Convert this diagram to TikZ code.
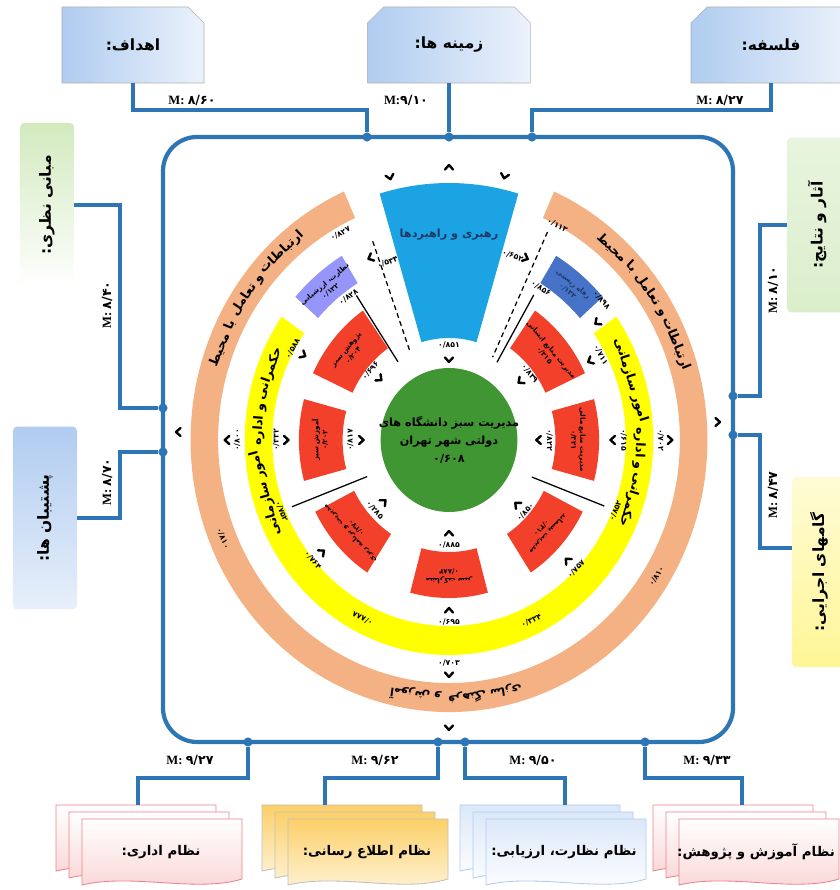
\documentclass[tikz,border=0pt]{standalone}
\usepackage{fontspec}
\setmainfont{Liberation Serif}
\newfontfamily\farsifont[Script=Arabic]{DejaVu Sans}
\TeXXeTstate=1
\usetikzlibrary{shapes.misc,positioning,calc}

\definecolor{frameblue}{RGB}{46,117,182}
\definecolor{ringsalmon}{RGB}{244,177,131}
\definecolor{ringyellow}{RGB}{255,255,0}
\definecolor{segred}{RGB}{243,64,42}
\definecolor{leadblue}{RGB}{28,163,228}
\definecolor{leadtext}{RGB}{31,56,100}
\definecolor{boxpurple}{RGB}{150,150,250}
\definecolor{boxblue}{RGB}{70,115,200}
\definecolor{coregreen}{RGB}{64,150,50}
\definecolor{paleblue}{RGB}{176,204,240}
\definecolor{palegreen}{RGB}{210,234,190}
\definecolor{paleyellow}{RGB}{255,246,150}
\definecolor{palepink}{RGB}{250,212,212}
\definecolor{gold}{RGB}{252,208,105}
\definecolor{pinkline}{RGB}{236,130,140}

\newcommand\fatx[1]{{\farsifont\bfseries\beginR #1\endR}}
\newcommand\fnum[1]{{\farsifont\bfseries #1}}
\newcommand\mval[1]{{\bfseries M:}~\fnum{#1}}
% annular piece: colour, start, end, inner, outer
\newcommand\ringpart[5]{\fill[#1] (#2:#4) -- (#2:#5) arc[start angle=#2, end angle=#3, radius=#5] -- (#3:#4) arc[start angle=#3, end angle=#2, radius=#4] -- cycle;}
% stack of three sheets: left x, fill, border
\newcommand\docstack[3]{%
  \foreach \k in {0,1,2} {
    \path[#2, draw=#3, line width=0.6pt] ({#1+13*\k},{85-7*\k}) -- ++(160,0) -- ++(0,-60)
      .. controls +(-45,-14) and +(50,12) .. ({#1+13*\k},{85-7*\k-66}) -- cycle;
  }}

\begin{document}
\begin{tikzpicture}[x=0.025cm, y=0.025cm,
  conn/.style={frameblue, line width=2.4pt},
  hub/.style={circle, fill=frameblue, inner sep=0pt, minimum size=6.5pt},
  mlab/.style={font=\fontsize{9}{10}\selectfont, inner sep=1pt},
  numlab/.style={font=\fontsize{5.5}{6}\selectfont, inner sep=0pt},
  ringword/.style={font=\fontsize{9}{10}\selectfont, inner sep=0pt},
  segtext/.style={font=\fontsize{5}{6.5}\selectfont, align=center, inner sep=0pt},
  headbox/.style={chamfered rectangle, chamfered rectangle xsep=2mm, chamfered rectangle ysep=2mm,
    draw=black!30, line width=0.4pt, left color=paleblue, right color=paleblue!25,
    minimum height=1.9cm, font=\fontsize{11}{13}\selectfont},
  sidebox/.style={rounded corners=3pt, rotate=90, font=\fontsize{11}{13}\selectfont},
  doctext/.style={font=\fontsize{9.5}{11}\selectfont, inner sep=1pt},
  chev/.pic={\draw[line width=1.7pt, line cap=round, line join=round] (-4,2.5) -- (0,-2) -- (4,2.5);}
]
\useasboundingbox (0,0) rectangle (840,890);

% frame
\draw[frameblue, line width=3pt, rounded corners=0.85cm] (163,148) rectangle (733,753);
\pic[rotate=-90] at (178,458) {chev};
\pic[rotate=90] at (718,468) {chev};

% joints on the frame
\coordinate (hT) at (0,780);
\coordinate (hB) at (0,112);
\coordinate (vL) at (120,0);
\coordinate (vR) at (760,0);
\node[hub] (jT1) at (367,753) {};
\node[hub] (jT2) at (449,753) {};
\node[hub] (jT3) at (532,753) {};
\node[hub] (jL1) at (163,482) {};
\node[hub] (jL2) at (163,438) {};
\node[hub] (jR1) at (733,494) {};
\node[hub] (jR2) at (733,455) {};
\node[hub] (jB1) at (248,148) {};
\node[hub] (jB2) at (438,148) {};
\node[hub] (jB3) at (465,148) {};
\node[hub] (jB4) at (645,148) {};

% top boxes
\node[headbox, chamfered rectangle corners={north east}, minimum width=3.55cm] (goals) at (133,845) {\fatx{اهداف:}};
\node[headbox, chamfered rectangle corners={north west,north east}, minimum width=4.07cm] (context) at (449,845) {\fatx{زمینه ها:}};
\node[headbox, chamfered rectangle corners={north west}, minimum width=4cm] (philo) at (771,845) {\fatx{فلسفه:}};
\draw[conn] (goals.south) -- (goals.south |- hT) -| (jT1);
\draw[conn] (context.south) -- (jT2);
\draw[conn] (philo.south) -- (philo.south |- hT) -| (jT3);
\node[mlab] (mGoals) at (192,790) {\mval{۸/۶۰}};
\node[mlab] (mContext) at (406,790) {{\bfseries M:}\fnum{۹/۱۰}};
\node[mlab] (mPhilo) at (720,790) {\mval{۸/۲۷}};

% left boxes
\node[sidebox, top color=palegreen, bottom color=white, minimum width=4.1cm, minimum height=1.35cm] (theory) at (47,685) {\fatx{مبانی نظری:}};
\node[sidebox, top color=paleblue, bottom color=paleblue!30, minimum width=4.57cm, minimum height=1.6cm] (support) at (45,372) {\fatx{پشتیبان ها:}};
\draw[conn] (theory.south) -- (theory.south -| vL) |- (jL1);
\draw[conn] (jL2) -| (vL |- support.south) -- (support.south);
\node[mlab, rotate=90] (mTheory) at (107,585) {\mval{۸/۴۰}};
\node[mlab, rotate=90] (mSupport) at (107,408) {\mval{۸/۷۰}};

% right boxes
\node[sidebox, top color=palegreen!50, bottom color=palegreen!80, minimum width=4.37cm, minimum height=1.5cm] (results) at (817,665) {\fatx{آثار و نتایج:}};
\node[sidebox, top color=paleyellow!40, bottom color=paleyellow, minimum width=4.75cm, minimum height=1.35cm] (steps) at (819,318) {\fatx{گامهای اجرایی:}};
\coordinate (stepsIn) at ($(steps.north)!0.25!(steps.north east)$);
\draw[conn] (results.north) -- (results.north -| vR) |- (jR1);
\draw[conn] (jR2) -| (vR |- stepsIn) -- (stepsIn);
\node[mlab, rotate=90] (mResults) at (773,600) {\mval{۸/۱۰}};
\node[mlab, rotate=90] (mSteps) at (773,395) {\mval{۸/۴۷}};

% bottom sheets
\docstack{56}{top color=white, bottom color=palepink}{pinkline}
\docstack{262}{top color=gold, bottom color=gold!25}{black!25}
\docstack{460}{top color=paleblue!45, bottom color=white}{paleblue}
\docstack{653}{top color=white, bottom color=palepink}{pinkline}
\coordinate (adminTop) at (138,85);
\coordinate (infoTop) at (325,85);
\coordinate (evalTop) at (565,85);
\coordinate (eduTop) at (742,85);
\node[doctext] (admin) at (161,38) {\fatx{نظام اداری:}};
\node[doctext] (info) at (367,38) {\fatx{نظام اطلاع رسانی:}};
\node[doctext] (eval) at (564,38) {\fatx{نظام نظارت، ارزیابی:}};
\node[doctext] (edu) at (756,38) {\fatx{نظام آموزش و پژوهش:}};
\draw[conn] (jB1) |- (adminTop |- hB) -- (adminTop);
\draw[conn] (jB2) |- (infoTop |- hB) -- (infoTop);
\draw[conn] (jB3) |- (evalTop |- hB) -- (evalTop);
\draw[conn] (jB4) |- (eduTop |- hB) -- (eduTop);
\node[mlab] (mAdmin) at (190,130) {\mval{۹/۲۷}};
\node[mlab] (mInfo) at (375,130) {\mval{۹/۶۲}};
\node[mlab] (mEval) at (533,130) {\mval{۹/۵۰}};
\node[mlab] (mEdu) at (707,130) {\mval{۹/۳۳}};

% the wheel
\begin{scope}[shift={(449,450)}, xscale=0.95]
  \ringpart{ringsalmon}{114}{426}{243}{272}
  \ringpart{ringyellow}{145}{395}{186}{215}
  \ringpart{leadblue}{73.5}{106.5}{102}{257}
  \foreach \a in {0,40,140,180,222,270,318}
    {\ringpart{segred}{{\a-15}}{{\a+15}}{112}{158}}
  \ringpart{boxpurple}{121.5}{138.5}{184}{216}
  \ringpart{boxblue}{41.5}{58.5}{184}{216}
  \fill[coregreen] (0,0) circle[radius=72];
  \node[font=\fontsize{8}{13}\selectfont, align=center, inner sep=0pt] (core) at (0,0)
    {\fatx{مدیریت سبز دانشگاه های}\\ \fatx{دولتی شهر تهران}\\ \fnum{۰/۶۰۸}};
  \node[font=\fontsize{8}{10}\selectfont, text=leadtext] (lead) at (90:205) {\fatx{رهبری و راهبردها}};
  % pieces of the inner ring
  \foreach \a/\n/\v [count=\i] in {140/پژوهش سبز/۲۰۴, 180/آموزش سبز/۲۰۲,
      222/مدیریت و برنامه ریزی/۲۷۰, 270/مشارکت سبز/۸۸۴, 318/مدیریت پسماند/۳۱۰,
      0/مدیریت منابع مالی/۳۲۱, 40/مدیریت منابع انسانی/۲۱۵}
    \node[segtext, rotate=\a-90] (seg\i) at (\a:136) {\fatx{\n}\\ \fnum{۰/\v}};
  \node[segtext, rotate=40] (watch) at (130:199) {\fatx{نظارت، ارزشیابی}\\ \fnum{۰/۱۳۲}};
  \node[segtext, rotate=-40, text=leadtext] (welfare) at (50:199) {\fatx{رفاه زیستی}\\ \fnum{۰/۱۳۳}};
  % words on the rings
  \foreach \a/\w [count=\i] in {133.2/ارتباطات, 145.6/و تعامل, 158/با محیط,
      21.9/ارتباطات, 34.3/و تعامل, 46.7/با محیط}
    \node[ringword, rotate=\a-90] (env\i) at (\a:257.5) {\fatx{\w}};
  \foreach \a/\w [count=\i] in {160.6/حکمرانی, 175.5/و اداره, 195.4/امور سازمانی,
      -17.4/حکمرانی, -2.5/و اداره, 17.4/امور سازمانی}
    \node[ringword, rotate=\a-90] (gov\i) at (\a:200.5) {\fatx{\w}};
  \foreach \a/\w [count=\i] in {262.1/آموزش و, 278.5/فرهنگ سازی}
    \node[ringword, font=\fontsize{8}{9}\selectfont, rotate=\a-90] (cul\i) at (\a:257.5) {\fatx{\w}};
  % chevrons: angle / radius / pointing
  \foreach \t/\r/\p in {90/273/90, 103.3/270/283.3, 77.5/270/257.5, 90/80/270,
      270/93/90, 270/170/90, 270/235/270, 270/288/270,
      180/92/0, 180/171/0, 180/234/180, 0/94/180, 0/172/180, 0/233/0,
      140/95/320, 222/92/42, 318/96/138, 38/95/218,
      220/174/40, 316/173/136, 28/168/208, 151/175/331,
      37/195/217, 114.5/200/204.5, 66/199/-24}
    \pic[rotate=\p+90] at (\t:\r) {chev};
  % values: angle / radius / rotation / digits
  \foreach \t/\r/\o/\v [count=\i] in {90/95/0/۸۵۱, 270/105/0/۸۸۵, 270/182/0/۶۹۵, 270/223/0/۷۰۳,
      180/104/90/۸۱۷, 180/182/90/۳۳۲, 180/223/90/۸۰۰,
      0/106/-90/۸۲۲, 0/184/-90/۶۱۵, 0/223/-90/۷۰۲,
      140/108/50/۶۹۶, 222/105/-48/۲۸۵, 318/108/48/۸۵۰, 38/108/-52/۸۳۹,
      220/187/-50/۷۶۴, 316/186/46/۷۵۷, 28/181/-62/۷۱۱, 151/188/61/۵۸۸,
      41/213/-49/۸۹۸, 110/189/21/۵۳۴, 70/196/-20/۶۵۲,
      119/236/29/۸۲۷, 126.5/178/37/۸۲۸, 62/243/-28/۱۱۳, 57.5/180/-32/۸۵۶,
      202/190/-68/۷۵۲, -22/189/68/۸۵۲,
      202.5/257.5/292.5/۸۱۰, 328/257.5/58/۸۱۰, 243/200.5/153/۸۸۸, 295.6/200.5/25.6/۳۳۴}
    \node[numlab, rotate=\o] (val\i) at (\t:\r) {\fnum{۰/\v}};
  % links towards the core
  \coordinate (dashL) at (112:214);
  \coordinate (dashLend) at (115:96);
  \coordinate (solL) at (124:174);
  \coordinate (solLend) at (124.5:95);
  \coordinate (dashR) at (63.5:232);
  \coordinate (dashRend) at (61:95);
  \coordinate (solR) at (58.4:170);
  \coordinate (solRend) at (57:93);
  \coordinate (crossL) at (202:178);
  \coordinate (crossLend) at (203:94);
  \coordinate (crossR) at (-22:176);
  \coordinate (crossRend) at (-23:95);
  \draw[line width=0.9pt, dashed, line cap=round] (dashL) -- (dashLend);
  \draw[line width=0.9pt, line cap=round] (solL) -- (solLend);
  \draw[line width=0.9pt, dashed, line cap=round] (dashR) -- (dashRend);
  \draw[line width=0.9pt, line cap=round] (solR) -- (solRend);
  \draw[line width=0.9pt, line cap=round] (crossL) -- (crossLend);
  \draw[line width=0.9pt, line cap=round] (crossR) -- (crossRend);
\end{scope}
\end{tikzpicture}
\end{document}
